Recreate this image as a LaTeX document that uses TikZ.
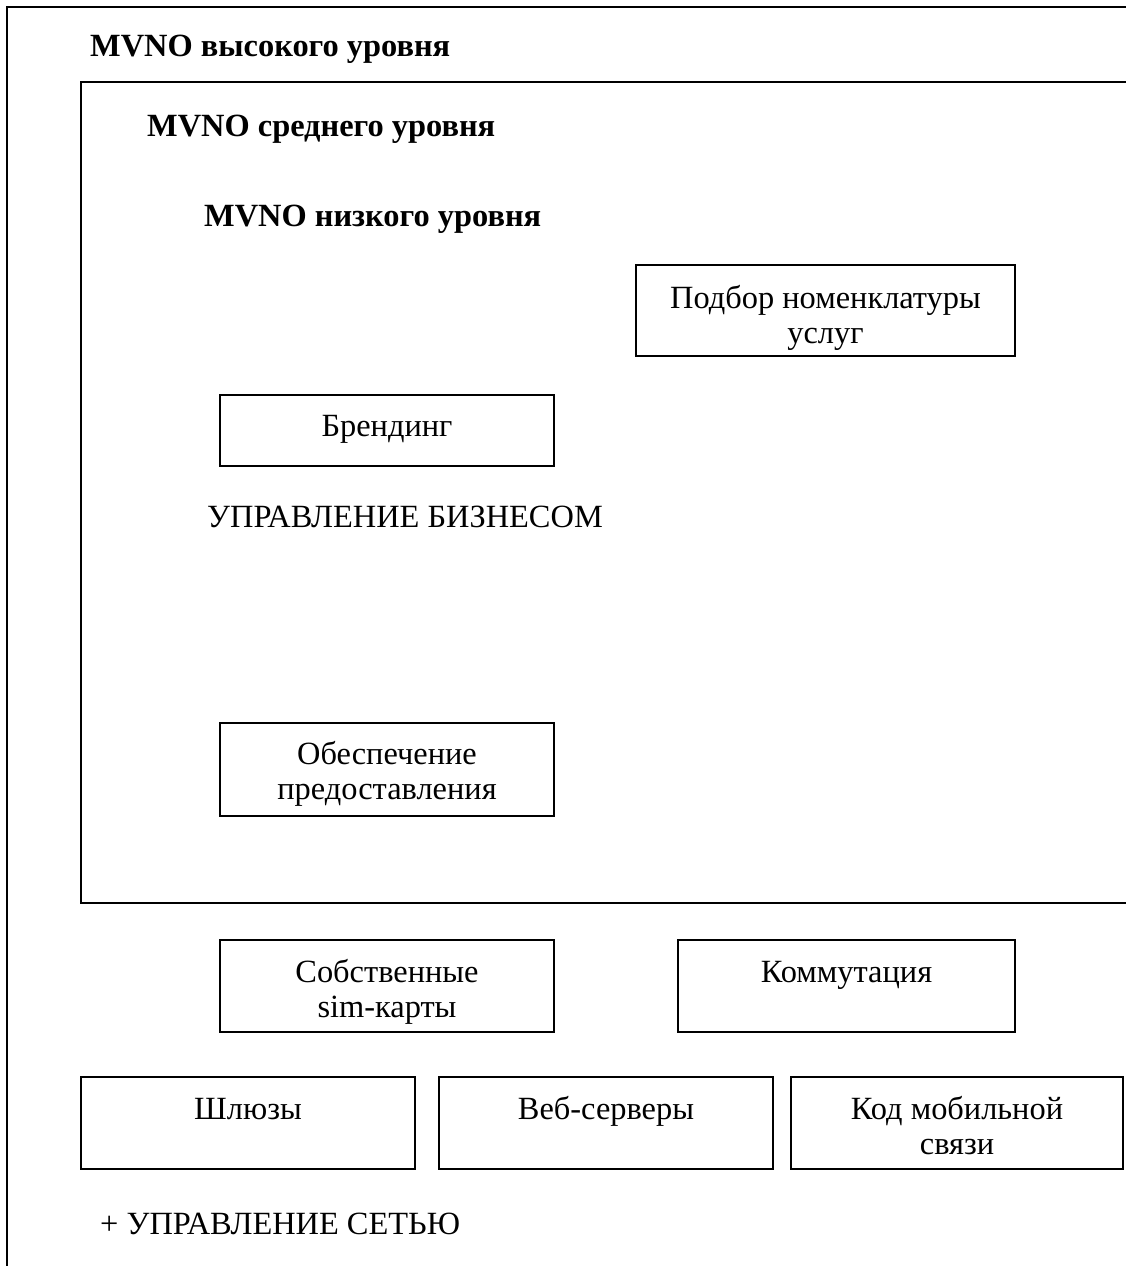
\documentclass[tikz,border=0pt]{standalone}
\usepackage{fontspec}
\setmainfont{Liberation Serif}
\newcommand{\twolines}[1]{\begin{tabular}[t]{@{}c@{}}#1\end{tabular}}
\newcommand{\diagfont}{\fontsize{32.4}{35}\selectfont}
\begin{document}
\begin{tikzpicture}[x=1pt,y=-1pt,
  frame/.style={line width=2.2pt},
  box/.style={draw,line width=1.8pt,inner sep=0pt},
  boxtext/.style={anchor=base,inner sep=0pt,align=center},
  title/.style={anchor=base west,inner sep=0pt},
  plain/.style={anchor=base west,inner sep=0pt},
  every node/.append style={font=\diagfont}]
\useasboundingbox (0,0) rectangle (1125,1266);

% nested operator levels
\coordinate (outerTR) at (1126,7);
\coordinate (outerTL) at (7,7);
\coordinate (outerBL) at (7,1267);
\draw[frame] (outerTR) -- (outerTL) -- (outerBL);
\coordinate (innerTR) at (1126,82);
\coordinate (innerTL) at (81,82);
\coordinate (innerBL) at (81,903);
\coordinate (innerBR) at (1126,903);
\draw[frame] (innerTR) -- (innerTL) -- (innerBL) -- (innerBR);

\node[title] (high) at (90,56) {\diagfont\bfseries MVNO высокого уровня};
\node[title] (mid) at (147,136) {\diagfont\bfseries MVNO среднего уровня};
\node[title] (low) at (204,226) {\diagfont\bfseries MVNO низкого уровня};

% function boxes
\node[box,minimum width=379pt,minimum height=91pt] (nom) at (825.5,310.5) {};
\node[boxtext] at ([yshift=-44pt]nom.north) {\twolines{Подбор номенклатуры\\услуг}};

\node[box,minimum width=334pt,minimum height=71pt] (brand) at (387,430.5) {};
\node[boxtext] at ([yshift=-42pt]brand.north) {Брендинг};

\node[plain] (biz) at (207,527) {УПРАВЛЕНИЕ БИЗНЕСОМ};

\node[box,minimum width=334pt,minimum height=93pt] (prov) at (387,769.5) {};
\node[boxtext] at ([yshift=-42pt]prov.north) {\twolines{Обеспечение\\предоставления}};

\node[box,minimum width=334pt,minimum height=92pt] (sim) at (387,986) {};
\node[boxtext] at ([yshift=-43pt]sim.north) {\twolines{Собственные\\sim-карты}};

\node[box,minimum width=337pt,minimum height=92pt] (comm) at (846.5,986) {};
\node[boxtext] at ([yshift=-43pt]comm.north) {Коммутация};

\node[box,minimum width=334pt,minimum height=92pt] (gw) at (248,1123) {};
\node[boxtext] at ([yshift=-43pt]gw.north) {Шлюзы};

\node[box,minimum width=334pt,minimum height=92pt] (web) at (606,1123) {};
\node[boxtext] at ([yshift=-43pt]web.north) {Веб-серверы};

\node[box,minimum width=332pt,minimum height=92pt] (code) at (957,1123) {};
\node[boxtext] at ([yshift=-43pt]code.north) {\twolines{Код мобильной\\связи}};

\node[plain] (net) at (100,1234) {+ УПРАВЛЕНИЕ СЕТЬЮ};
\end{tikzpicture}
\end{document}
